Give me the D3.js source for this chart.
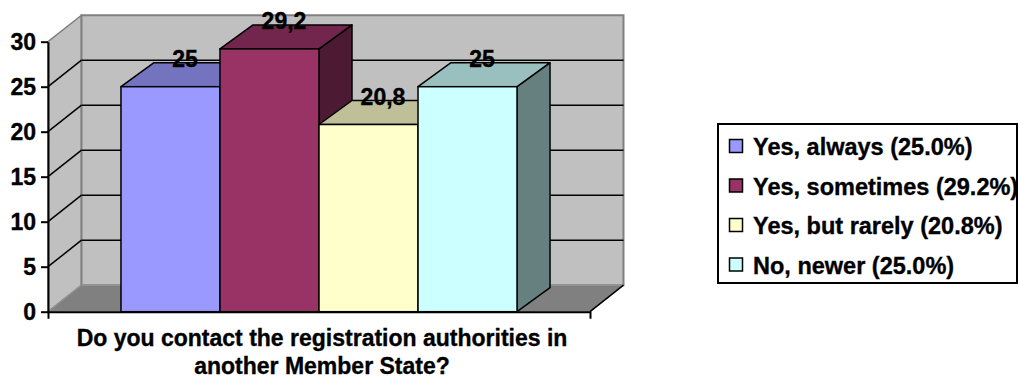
<!DOCTYPE html>
<html>
<head>
<meta charset="utf-8">
<script src="https://cdn.jsdelivr.net/npm/d3@7"></script>
<style>
  html, body { margin: 0; padding: 0; background: #fff; }
  svg { display: block; font-family: "Liberation Sans", Arial, sans-serif; font-weight: bold; }
  svg text { stroke: #000; stroke-width: 0.35px; }
</style>
</head>
<body>
<svg id="chart" width="1019" height="378"></svg>
<script>
// Survey answers and their shares (%)
const question = ["Do you contact the registration authorities in", "another Member State?"];
const answers = ["Yes, always", "Yes, sometimes", "Yes, but rarely", "No, newer"];
const shares = [25, 29.2, 20.8, 25];
const yTicks = [0, 5, 10, 15, 20, 25, 30];

// Face colours per answer: front, top, side
const frontColors = ["#9999FF", "#993366", "#FFFFCC", "#CCFFFF"];
const topColors   = ["#7373BF", "#73264D", "#BFBF99", "#99BFBF"];
const sideColors  = ["#4D4D80", "#4D1A33", "#808066", "#668080"];

const svg = d3.select("#chart");

// Front plane of the plot and the depth offset of the 3D box
const x0 = 48, x1 = 590;
const wallDx = 33.5, wallDy = -26.5;
const barDx = 33, barDy = -24;

const y = d3.scaleLinear().domain([0, 30]).range([311.7, 41.7]);
const x = d3.scaleBand().domain(answers).range([x0, x1]).paddingInner(0).paddingOuter(0.737);

const pts = a => a.map(p => p.join(",")).join(" ");
const g = svg.append("g");

// Side wall
g.append("polygon")
  .attr("points", pts([[x0, y(0)], [x0, y(30)], [x0 + wallDx, y(30) + wallDy], [x0 + wallDx, y(0) + wallDy]]))
  .attr("fill", "#C0C0C0").attr("stroke", "#808080").attr("stroke-width", 1.5);
// Back wall
g.append("polygon")
  .attr("points", pts([[x0 + wallDx, y(30) + wallDy], [x1 + wallDx, y(30) + wallDy], [x1 + wallDx, y(0) + wallDy], [x0 + wallDx, y(0) + wallDy]]))
  .attr("fill", "#C0C0C0").attr("stroke", "#808080").attr("stroke-width", 2);
// Floor
g.append("polygon")
  .attr("points", pts([[x0, y(0)], [x0 + wallDx, y(0) + wallDy], [x1 + wallDx, y(0) + wallDy], [x1, y(0)]]))
  .attr("fill", "#808080").attr("stroke", "#9a9a9a").attr("stroke-width", 1);
g.append("line")
  .attr("x1", x1).attr("y1", y(0)).attr("x2", x1 + wallDx).attr("y2", y(0) + wallDy)
  .attr("stroke", "#000").attr("stroke-width", 1.5);

// Gridlines on side and back walls
const grid = yTicks.filter(v => v > 0 && v < 30);
g.selectAll(".gs").data(grid).join("line")
  .attr("x1", x0).attr("y1", d => y(d))
  .attr("x2", x0 + wallDx).attr("y2", d => y(d) + wallDy)
  .attr("stroke", "#000").attr("stroke-width", 1.5);
g.selectAll(".gb").data(grid).join("line")
  .attr("x1", x0 + wallDx).attr("y1", d => y(d) + wallDy)
  .attr("x2", x1 + wallDx).attr("y2", d => y(d) + wallDy)
  .attr("stroke", "#000").attr("stroke-width", 1.5);

// Y axis
const yAxis = svg.append("g")
  .attr("transform", `translate(${x0},0)`)
  .call(d3.axisLeft(y).tickValues(yTicks).tickSizeInner(7).tickSizeOuter(0).tickPadding(5));
yAxis.select(".domain").attr("stroke", "#000").attr("stroke-width", 2);
yAxis.selectAll(".tick line").attr("stroke", "#000").attr("stroke-width", 2);
yAxis.selectAll("text").attr("font-size", 23).attr("font-weight", "bold").attr("fill", "#000")
  .attr("font-family", "Liberation Sans, Arial, sans-serif");

// Bars
const bars = svg.append("g").selectAll("g").data(answers).join("g");
bars.each(function (d, i) {
  const sel = d3.select(this);
  const l = x(d), r = x(d) + x.bandwidth(), t = y(shares[i]), b = y(0);
  sel.append("polygon")
    .attr("points", pts([[r, b], [r, t], [r + barDx, t + barDy], [r + barDx, b + barDy]]))
    .attr("fill", sideColors[i]).attr("stroke", "#000").attr("stroke-width", 1.5).attr("stroke-linejoin", "round");
  sel.append("polygon")
    .attr("points", pts([[l, t], [l + barDx, t + barDy], [r + barDx, t + barDy], [r, t]]))
    .attr("fill", topColors[i]).attr("stroke", "#000").attr("stroke-width", 1.5).attr("stroke-linejoin", "round");
  sel.append("rect")
    .attr("x", l).attr("y", t).attr("width", r - l).attr("height", b - t)
    .attr("fill", frontColors[i]).attr("stroke", "#000").attr("stroke-width", 1.5);
});

// X axis line with outer ticks
const xAxis = svg.append("g")
  .attr("transform", `translate(0,${y(0)})`)
  .call(d3.axisBottom(x).tickSizeInner(0).tickSizeOuter(7).tickFormat(""));
xAxis.select(".domain").attr("stroke", "#000").attr("stroke-width", 2);

// Value labels above each bar top
const fmt = d3.formatLocale({ decimal: ",", thousands: ".", grouping: [3], currency: ["", ""] }).format("~g");
svg.append("g").selectAll("text").data(answers).join("text")
  .attr("x", (d, i) => x(d) + x.bandwidth() / 2 + barDx / 2 - 2)
  .attr("y", (d, i) => y(shares[i]) + barDy / 2 - 16)
  .attr("dy", "0.35em")
  .attr("text-anchor", "middle")
  .attr("font-size", 23)
  .attr("fill", "#000")
  .text((d, i) => fmt(shares[i]));

// Category title under the axis
svg.append("text")
  .attr("x", 322).attr("y", 346)
  .attr("text-anchor", "middle").attr("font-size", 23).attr("fill", "#000")
  .selectAll("tspan").data(question).join("tspan")
  .attr("x", 322).attr("dy", (d, i) => i ? 28 : 0)
  .text(d => d);

// Legend
const lg = svg.append("g");
lg.append("rect").attr("x", 718).attr("y", 124).attr("width", 299).attr("height", 159)
  .attr("fill", "#fff").attr("stroke", "#000").attr("stroke-width", 2);
const rowY = d3.scalePoint().domain(answers).range([146, 264.5]);
const items = lg.selectAll(".item").data(answers).join("g")
  .attr("transform", d => `translate(0,${rowY(d)})`);
items.append("rect").attr("x", 729.5).attr("y", -6.5).attr("width", 13).attr("height", 13)
  .attr("fill", (d, i) => frontColors[i]).attr("stroke", "#000").attr("stroke-width", 1.5);
items.append("text").attr("x", 753).attr("y", 9).attr("font-size", 23.5).attr("fill", "#000")
  .text((d, i) => `${d} (${shares[i].toFixed(1)}%)`);
</script>
</body>
</html>
